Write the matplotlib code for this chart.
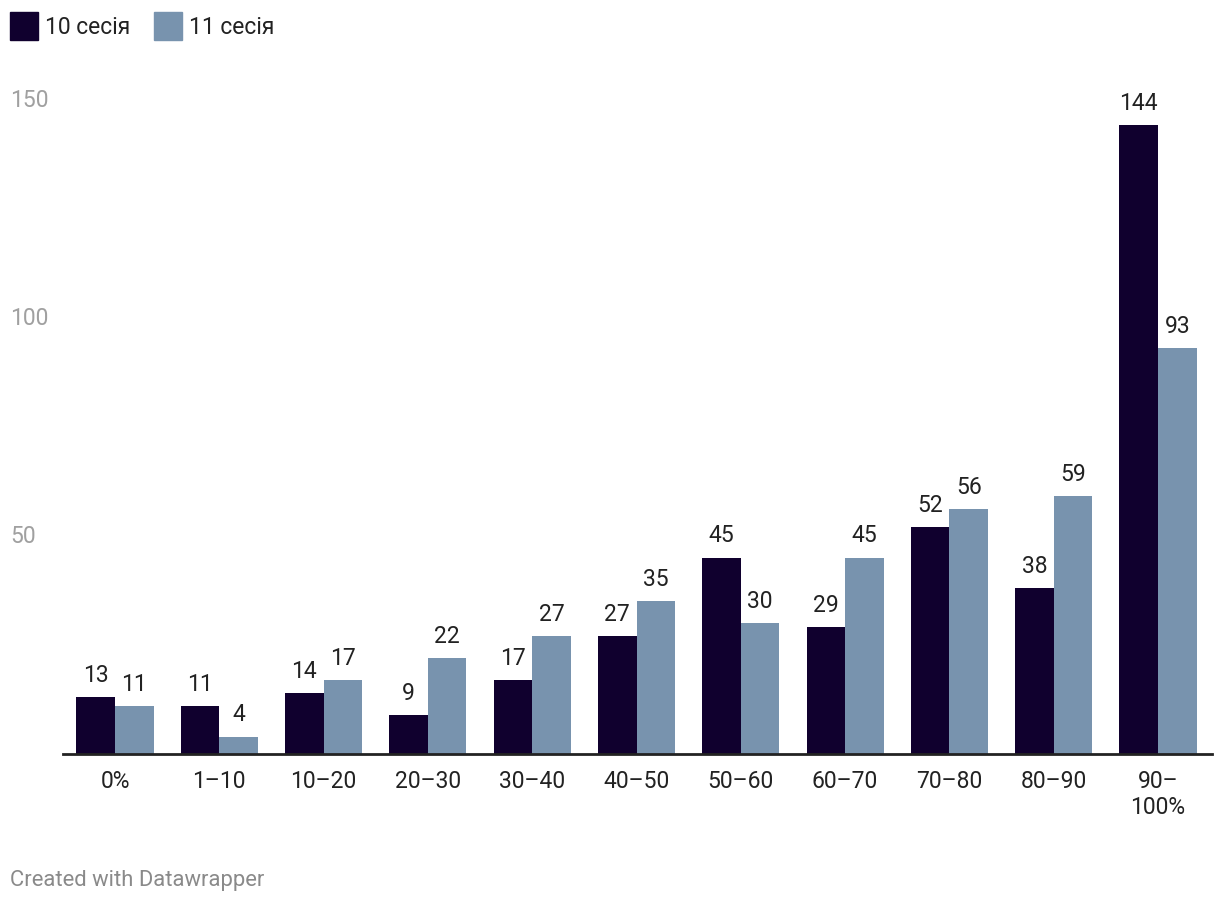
import matplotlib
matplotlib.use("Agg")
import matplotlib.pyplot as plt
from matplotlib.patches import Rectangle
import numpy as np

plt.rcParams['font.family'] = ['Roboto', 'DejaVu Sans']

categories = ["0%", "1–10", "10–20", "20–30", "30–40", "40–50", "50–60", "60–70", "70–80", "80–90", "90–\n100%"]
series_names = ["10 сесія", "11 сесія"]
s10 = [13, 11, 14, 9, 17, 27, 45, 29, 52, 38, 144]
s11 = [11, 4, 17, 22, 27, 35, 30, 45, 56, 59, 93]
yticks = [50, 100, 150]
colors = ["#10002e", "#7893ae"]

W, H = 1220, 904
base = 755
top = 100
fig = plt.figure(figsize=(W / 100, H / 100), dpi=100)
ax_left = 115 - 104.3 * 0.5
ax_right = 115 + 104.3 * 10.52
ax = fig.add_axes([ax_left / W, (H - base) / H, (ax_right - ax_left) / W, (base - top) / H])

x = np.arange(len(categories))
bw = 0.37
for vals, off, c in [(s10, -bw / 2, colors[0]), (s11, bw / 2, colors[1])]:
    bars = ax.bar(x + off, vals, width=bw, color=c, linewidth=0)
    for b, v in zip(bars, vals):
        ax.annotate(str(v), (b.get_x() + b.get_width() / 2, v), xytext=(0, 8),
                    textcoords="offset points", ha="center", va="bottom",
                    fontsize=16.5, color="#222222")

ax.set_xlim(-0.5, 10.52)
ax.set_ylim(0, 150)
for s in ["top", "right", "left"]:
    ax.spines[s].set_visible(False)
ax.spines["bottom"].set_linewidth(2)
ax.spines["bottom"].set_color("#222222")
ax.set_xticks(x)
ax.set_xticklabels(categories, fontsize=16.5, color="#222222", linespacing=1.15)
ax.tick_params(axis="x", length=0, pad=11)
ax.set_yticks([])

for t in yticks:
    fig.text(10 / W, 1 - (base - t * ((base - top) / 150)) / H, str(t), ha="left", va="center",
             fontsize=16.5, color="#a0a0a0")

# legend
for name, c, lx in zip(series_names, colors, [10, 154]):
    fig.patches.append(Rectangle((lx / W, 1 - 41 / H), 28 / W, 28 / H,
                                 transform=fig.transFigure, color=c, figure=fig))
    fig.text((lx + 35) / W, 1 - 27 / H, name, ha="left", va="center",
             fontsize=16.5, color="#222222")

fig.text(10 / W, 1 - 881 / H, "Created with Datawrapper", ha="left", va="center",
         fontsize=15.8, color="#8a8a8a")

fig.savefig("out.png", dpi=100)
